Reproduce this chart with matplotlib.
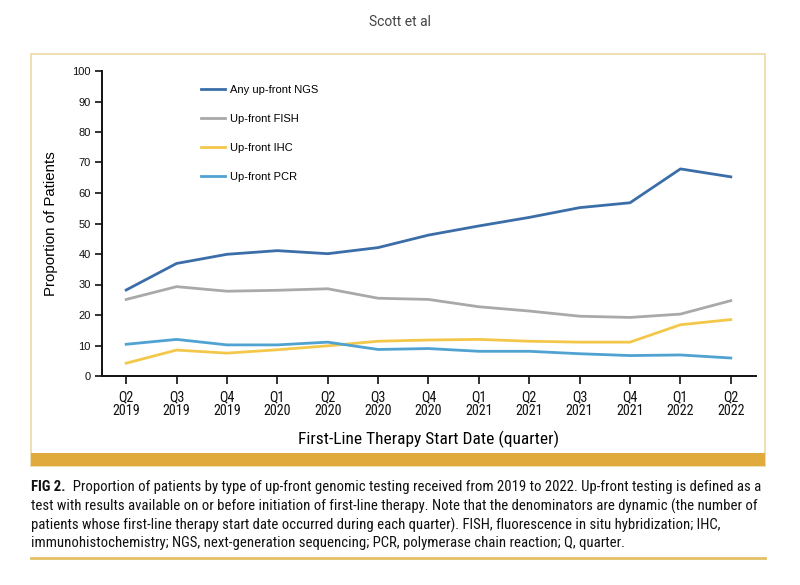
import matplotlib
matplotlib.use("Agg")
import matplotlib.pyplot as plt
from matplotlib.patches import Rectangle
from matplotlib.lines import Line2D

quarters = ["Q2\n2019", "Q3\n2019", "Q4\n2019", "Q1\n2020", "Q2\n2020", "Q3\n2020", "Q4\n2020",
            "Q1\n2021", "Q2\n2021", "Q3\n2021", "Q4\n2021", "Q1\n2022", "Q2\n2022"]
ngs = [28.2, 36.9, 39.9, 41.1, 40.1, 42.1, 46.2, 49.2, 52.0, 55.2, 56.8, 67.9, 65.3]
fish = [25.1, 29.3, 27.8, 28.1, 28.6, 25.5, 25.1, 22.7, 21.3, 19.6, 19.2, 20.3, 24.7]
ihc = [4.2, 8.5, 7.5, 8.6, 9.9, 11.4, 11.8, 12.0, 11.4, 11.1, 11.1, 16.8, 18.5]
pcr = [10.4, 12.0, 10.2, 10.2, 11.1, 8.7, 9.0, 8.1, 8.1, 7.3, 6.7, 6.9, 5.9]
series_names = ["Any up-front NGS", "Up-front FISH", "Up-front IHC", "Up-front PCR"]
colors = ["#3b6ea8", "#a9a9a9", "#f3c84a", "#4fa2d2"]

W, H = 800, 585
COND = ["Roboto Condensed", "DejaVu Sans"]
SANS = ["Liberation Sans", "DejaVu Sans"]

fig = plt.figure(figsize=(8, 5.85), dpi=100)


def fx(px):
    return px / W


def fy(py):
    return 1 - py / H


# frame + gold bar + bottom rule
fig.patches.append(Rectangle((fx(31), fy(466)), fx(765) - fx(31), fy(54) - fy(466),
                             transform=fig.transFigure, fill=False, edgecolor="#ead9a2", linewidth=1.2))
fig.patches.append(Rectangle((fx(31), fy(466)), fx(765) - fx(31), fy(453) - fy(466),
                             transform=fig.transFigure, facecolor="#e1aa3c", edgecolor="none"))
fig.lines.append(Line2D([fx(31), fx(765)], [fy(558), fy(558)], transform=fig.transFigure,
                        color="#e2c066", linewidth=2))

fig.text(0.5, fy(22), "Scott et al", ha="center", va="center", fontsize=10,
         color="#444444", family=["Roboto", "DejaVu Sans"])

ax = fig.add_axes([fx(102), fy(376), fx(756) - fx(102), fy(71) - fy(376)])
x = list(range(len(quarters)))
for vals, name, c in zip([ngs, fish, ihc, pcr], series_names, colors):
    ax.plot(x, vals, color=c, linewidth=2, label=name)

ax.set_xlim(-0.48, 12.5)
ax.set_ylim(0, 100)
ax.set_yticks(range(0, 101, 10))
ax.set_xticks(x)
ax.set_xticklabels(quarters, family=COND, fontsize=10.2, linespacing=1.05)
for lab in ax.get_yticklabels():
    lab.set_family(SANS)
    lab.set_fontsize(8)
ax.tick_params(axis="y", length=5, width=1.2, pad=3, colors="#111111")
ax.tick_params(axis="x", length=6, width=1.2, pad=4, colors="#111111")
for s in ("top", "right"):
    ax.spines[s].set_visible(False)
for s in ("left", "bottom"):
    ax.spines[s].set_linewidth(1.4)
    ax.spines[s].set_color("#111111")

ax.set_ylabel("Proportion of Patients", family=SANS, fontsize=10.8, labelpad=10)
ax.set_xlabel("First-Line Therapy Start Date (quarter)", family=COND, fontsize=12.5, labelpad=9)

leg = ax.legend(loc="upper left", bbox_to_anchor=(0.145, 0.968), frameon=False, fontsize=8,
                handlelength=2.15, labelspacing=1.69, handletextpad=0.45, borderaxespad=0)
for t in leg.get_texts():
    t.set_family(SANS)

# caption
cap_lines = [
    "Proportion of patients by type of up-front genomic testing received from 2019 to 2022. Up-front testing is defined as a",
    "test with results available on or before initiation of first-line therapy. Note that the denominators are dynamic (the number of",
    "patients whose first-line therapy start date occurred during each quarter). FISH, fluorescence in situ hybridization; IHC,",
    "immunohistochemistry; NGS, next-generation sequencing; PCR, polymerase chain reaction; Q, quarter.",
]
cap_y = [487, 506, 525, 543]
cap_size = 10.65
t0 = fig.text(fx(31), fy(cap_y[0]), "FIG 2.", ha="left", va="center", fontsize=cap_size,
              fontweight="bold", family=COND, color="#111111")
ax.annotate("  " + cap_lines[0], xy=(1, 0.5), xycoords=t0, ha="left", va="center",
            fontsize=cap_size, family=COND, color="#111111", annotation_clip=False)
for line, yy in zip(cap_lines[1:], cap_y[1:]):
    fig.text(fx(31), fy(yy), line, ha="left", va="center", fontsize=cap_size,
             family=COND, color="#111111")

fig.savefig("out.png", dpi=100, facecolor="white")
